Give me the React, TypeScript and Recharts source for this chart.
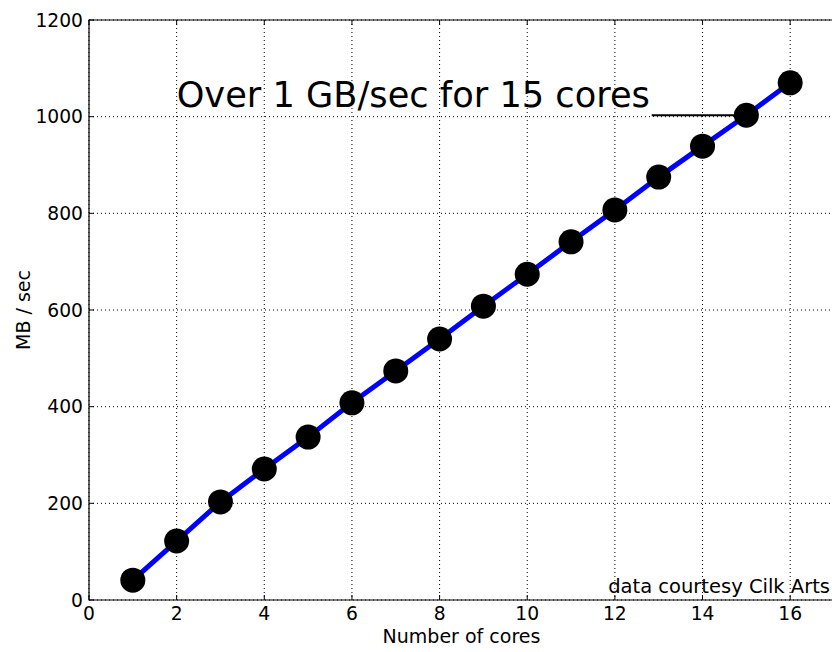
import React from 'react';
import {
  LineChart,
  Line,
  XAxis,
  YAxis,
  CartesianGrid,
  ReferenceArea,
  ReferenceLine,
  ReferenceDot,
} from 'recharts';

const cores = [1, 2, 3, 4, 5, 6, 7, 8, 9, 10, 11, 12, 13, 14, 15, 16];
const mbPerSec = [41, 122, 203, 271, 337, 408, 474, 540, 608, 674, 741, 807, 875, 939, 1003, 1070];
const xTicks = [0, 2, 4, 6, 8, 10, 12, 14, 16];
const yTicks = [0, 200, 400, 600, 800, 1000, 1200];
const xDomain = [0, 17];
const yDomain = [0, 1200];

const annotationText = 'Over 1 GB/sec for 15 cores';
const annotationTextPos = { x: 2, y: 1020 };
const annotationLine = [
  { x: 12.84, y: 1003 },
  { x: 15, y: 1003 },
];
const xLabel = 'Number of cores';
const yLabel = 'MB / sec';
const footnote = 'data courtesy Cilk Arts';

const data = cores.map((c, i) => ({ cores: c, mb: mbPerSec[i] }));

const FONT = '"DejaVu Sans", sans-serif';
const PLOT_LEFT = 89;
const PLOT_TOP = 20;
const PLOT_BOTTOM = 600;
const TICK_LEN = 5;

const XTick = (props: any) => {
  const { x, payload } = props;
  return (
    <g>
      <line x1={x} y1={PLOT_BOTTOM} x2={x} y2={PLOT_BOTTOM - TICK_LEN} stroke="#000" strokeWidth={1} />
      <line x1={x} y1={PLOT_TOP} x2={x} y2={PLOT_TOP + TICK_LEN} stroke="#000" strokeWidth={1} />
      <text x={x} y={PLOT_BOTTOM + 20} textAnchor="middle" fontFamily={FONT} fontSize={18.7} fill="#000">
        {payload.value}
      </text>
    </g>
  );
};

const YTick = (props: any) => {
  const { y, payload } = props;
  return (
    <g>
      <line x1={PLOT_LEFT} y1={y} x2={PLOT_LEFT + TICK_LEN} y2={y} stroke="#000" strokeWidth={1} />
      <text x={PLOT_LEFT - 6} y={y} dy="0.36em" textAnchor="end" fontFamily={FONT} fontSize={18.7} fill="#000">
        {payload.value}
      </text>
    </g>
  );
};

const AnnotationShape = (props: any) => (
  <text x={props.cx} y={props.cy} textAnchor="start" fontFamily={FONT} fontSize={35.2} fill="#000">
    {annotationText}
  </text>
);

export default function App() {
  return (
    <div style={{ position: 'absolute', left: 0, top: 0, width: 832, height: 652, overflow: 'hidden', background: '#fff' }}>
      <LineChart
        width={840}
        height={652}
        data={data}
        margin={{ top: 20, right: 6, bottom: 0, left: 0 }}
      >
        <CartesianGrid
          stroke="#000"
          strokeDasharray="1 3"
          strokeWidth={1}
          horizontalValues={yTicks}
          verticalValues={xTicks}
        />
        <XAxis
          dataKey="cores"
          type="number"
          domain={xDomain}
          ticks={xTicks}
          allowDataOverflow
          axisLine={false}
          tickLine={false}
          tickSize={0}
          tickMargin={0}
          height={52}
          tick={<XTick />}
          label={{
            content: (p: any) => {
              const vb = p.viewBox || {};
              return (
                <text
                  x={vb.x + vb.width / 2}
                  y={vb.y + 43}
                  textAnchor="middle"
                  fontFamily={FONT}
                  fontSize={19}
                  fill="#000"
                >
                  {xLabel}
                </text>
              );
            },
          }}
        />
        <YAxis
          type="number"
          domain={yDomain}
          ticks={yTicks}
          allowDataOverflow
          axisLine={false}
          tickLine={false}
          tickSize={0}
          tickMargin={0}
          width={89}
          tick={<YTick />}
          label={{
            content: (p: any) => {
              const vb = p.viewBox || {};
              const cy = vb.y + vb.height / 2;
              return (
                <text
                  x={30}
                  y={cy}
                  transform={`rotate(-90, 30, ${cy})`}
                  textAnchor="middle"
                  fontFamily={FONT}
                  fontSize={19}
                  fill="#000"
                >
                  {yLabel}
                </text>
              );
            },
          }}
        />
        <ReferenceArea
          x1={xDomain[0]}
          x2={xDomain[1]}
          y1={yDomain[0]}
          y2={yDomain[1]}
          fill="none"
          stroke="#000"
          strokeWidth={1.2}
          ifOverflow="visible"
        />
        <ReferenceLine segment={annotationLine} stroke="#000" strokeWidth={2} ifOverflow="visible" />
        <Line
          dataKey="mb"
          stroke="#0000ff"
          strokeWidth={5}
          dot={{ r: 12.5, fill: '#000', stroke: 'none' }}
          activeDot={false}
          isAnimationActive={false}
        />
        <ReferenceDot
          x={annotationTextPos.x}
          y={annotationTextPos.y}
          r={0}
          shape={<AnnotationShape />}
          ifOverflow="visible"
        />
      </LineChart>
      <svg width={832} height={652} style={{ position: 'absolute', left: 0, top: 0, pointerEvents: 'none' }}>
        <text x={830} y={593} textAnchor="end" fontFamily={FONT} fontSize={19.5} fill="#000">
          {footnote}
        </text>
      </svg>
    </div>
  );
}
